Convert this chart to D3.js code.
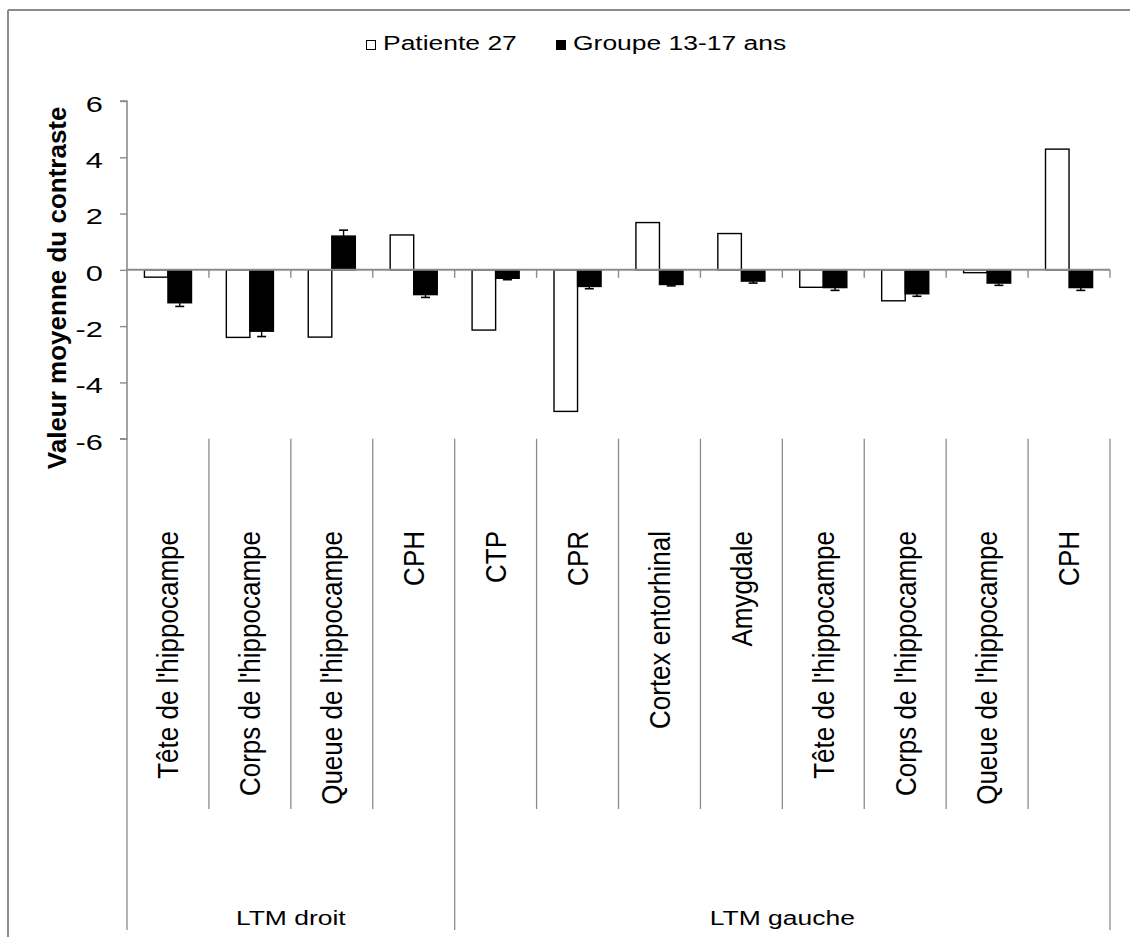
<!DOCTYPE html>
<html>
<head>
<meta charset="utf-8">
<script src="https://cdn.jsdelivr.net/npm/d3@7"></script>
<style>
  body { margin: 0; background: #fff; }
  text { font-family: "Liberation Sans", Arial, sans-serif; fill: #000; }
</style>
</head>
<body>
<div id="chart"></div>
<script>
// data
const categories = ["Tête de l'hippocampe", "Corps de l'hippocampe", "Queue de l'hippocampe", "CPH",
  "CTP", "CPR", "Cortex entorhinal", "Amygdale",
  "Tête de l'hippocampe", "Corps de l'hippocampe", "Queue de l'hippocampe", "CPH"];
const groupNames = ["LTM droit", "LTM gauche"];
const groupSizes = [4, 8];
const seriesNames = ["Patiente 27", "Groupe 13-17 ans"];
const patienteValues = [-0.26, -2.4, -2.39, 1.24, -2.14, -5.03, 1.68, 1.29, -0.62, -1.1, -0.1, 4.29];
const groupeValues = [-1.17, -2.18, 1.2, -0.88, -0.3, -0.59, -0.52, -0.4, -0.63, -0.85, -0.47, -0.63];
const groupeErrors = [0.13, 0.19, 0.21, 0.1, 0.05, 0.08, 0.05, 0.07, 0.1, 0.09, 0.08, 0.1];
const yTicks = [-6, -4, -2, 0, 2, 4, 6];

const width = 1130, height = 937;
const plot = { left: 127, right: 1110, top: 101, bottom: 438.7 };
const gray = '#8c8c8c';
const stretch = 1.26; // horizontal text in the reference is drawn wide

const svg = d3.select('#chart')
  .append('svg')
    .attr('width', width)
    .attr('height', height);

// outer frame (top and left edges are visible)
svg.append('line')
    .attr('x1', 8).attr('x2', width).attr('y1', 10).attr('y2', 10)
    .attr('stroke', gray).attr('stroke-width', 2);
svg.append('line')
    .attr('x1', 8).attr('x2', 8).attr('y1', 10).attr('y2', height)
    .attr('stroke', gray).attr('stroke-width', 2);

// scales
const x = d3.scaleBand()
  .domain(d3.range(categories.length))
  .range([plot.left, plot.right])
  .padding(0);

const xInner = d3.scaleBand()
  .domain(seriesNames)
  .range([0, x.bandwidth()])
  .paddingInner(0)
  .paddingOuter(0.74);

const y = d3.scaleLinear()
  .domain([-6, 6])
  .range([plot.bottom, plot.top]);

const y0 = y(0);

// bars
const series = [
  { name: seriesNames[0], values: patienteValues, fill: '#fff' },
  { name: seriesNames[1], values: groupeValues, fill: '#000' }
];

series.forEach(s => {
  svg.append('g')
    .selectAll('rect')
    .data(s.values)
    .enter()
    .append('rect')
      .attr('x', (d, i) => x(i) + xInner(s.name))
      .attr('y', d => Math.min(y(d), y0))
      .attr('width', xInner.bandwidth())
      .attr('height', d => Math.abs(y(d) - y0))
      .attr('fill', s.fill)
      .attr('stroke', '#000')
      .attr('stroke-width', 1.4);
});

// error bars on the group series (only away from zero)
const errG = svg.append('g');
groupeValues.forEach((v, i) => {
  const cx = x(i) + xInner(seriesNames[1]) + xInner.bandwidth() / 2;
  const end = v >= 0 ? v + groupeErrors[i] : v - groupeErrors[i];
  errG.append('line')
    .attr('x1', cx).attr('x2', cx)
    .attr('y1', y(v)).attr('y2', y(end))
    .attr('stroke', '#000').attr('stroke-width', 1.4);
  errG.append('line')
    .attr('x1', cx - 4.5).attr('x2', cx + 4.5)
    .attr('y1', y(end)).attr('y2', y(end))
    .attr('stroke', '#000').attr('stroke-width', 1.6);
});

// horizontal axis at zero, ticks on category boundaries
const boundaries = d3.range(categories.length).map(i => x(i)).concat([plot.right]);
svg.append('line')
    .attr('x1', plot.left).attr('x2', plot.right)
    .attr('y1', y0).attr('y2', y0)
    .attr('stroke', gray).attr('stroke-width', 2);
svg.append('g')
  .selectAll('line')
  .data(boundaries.slice(1))
  .enter()
  .append('line')
    .attr('x1', d => d).attr('x2', d => d)
    .attr('y1', y0).attr('y2', y0 + 8)
    .attr('stroke', gray).attr('stroke-width', 1.4);

// y axis
const yAxis = svg.append('g')
    .attr('transform', `translate(${plot.left},0)`)
    .call(d3.axisLeft(y).tickValues(yTicks).tickSize(7).tickFormat(d => String(d)));
yAxis.select('.domain').attr('stroke', gray).attr('stroke-width', 1.6)
    .attr('d', `M-7,${plot.top}H0V${plot.bottom}H-7`);
yAxis.selectAll('.tick line').attr('stroke', gray).attr('stroke-width', 1.4);
yAxis.selectAll('.tick text')
    .attr('x', null)
    .attr('dy', '0.47em')
    .attr('transform', `translate(-24,0) scale(1.4,1)`)
    .style('font-size', '22px')
    .style('font-family', '"Liberation Sans", Arial, sans-serif')
    .style('text-anchor', 'end')
    .attr('fill', '#000');

// y axis title
svg.append('text')
    .attr('transform', `translate(66,${(plot.top + plot.bottom) / 2 + 18}) rotate(-90)`)
    .attr('text-anchor', 'middle')
    .style('font-size', '26px')
    .style('font-weight', 'bold')
    .text('Valeur moyenne du contraste');

// category label area: separators
const labelTop = plot.bottom, labelMid = 809, labelBottom = 930;
const groupEdges = [0];
groupSizes.forEach(n => groupEdges.push(groupEdges[groupEdges.length - 1] + n));

svg.append('g')
  .selectAll('line')
  .data(boundaries)
  .enter()
  .append('line')
    .attr('x1', d => d).attr('x2', d => d)
    .attr('y1', labelTop)
    .attr('y2', (d, i) => groupEdges.includes(i) ? labelBottom : labelMid)
    .attr('stroke', gray).attr('stroke-width', 1.3);

// rotated category labels
svg.append('g')
  .selectAll('text')
  .data(categories)
  .enter()
  .append('text')
    .attr('transform', (d, i) => `translate(${x(i) + x.bandwidth() / 2},531) rotate(-90) scale(1,1.1)`)
    .attr('dy', '0.36em')
    .attr('text-anchor', 'end')
    .style('font-size', '26px')
    .text(d => d);

// group labels
svg.append('g')
  .selectAll('text')
  .data(groupNames)
  .enter()
  .append('text')
    .attr('transform', (d, i) => {
      const cx = (boundaries[groupEdges[i]] + boundaries[groupEdges[i + 1]]) / 2;
      return `translate(${cx},925) scale(${stretch},1)`;
    })
    .attr('text-anchor', 'middle')
    .style('font-size', '21px')
    .text(d => d);

// legend
const legendX = [366, 556];
const legend = svg.append('g');
series.forEach((s, i) => {
  legend.append('rect')
    .attr('x', legendX[i] + 0.5).attr('y', 40.5)
    .attr('width', 9).attr('height', 9)
    .attr('fill', s.fill)
    .attr('stroke', '#000').attr('stroke-width', 1);
  legend.append('text')
    .attr('transform', `translate(${legendX[i] + 17},50) scale(${stretch},1)`)
    .style('font-size', '21px')
    .text(s.name);
});
</script>
</body>
</html>
